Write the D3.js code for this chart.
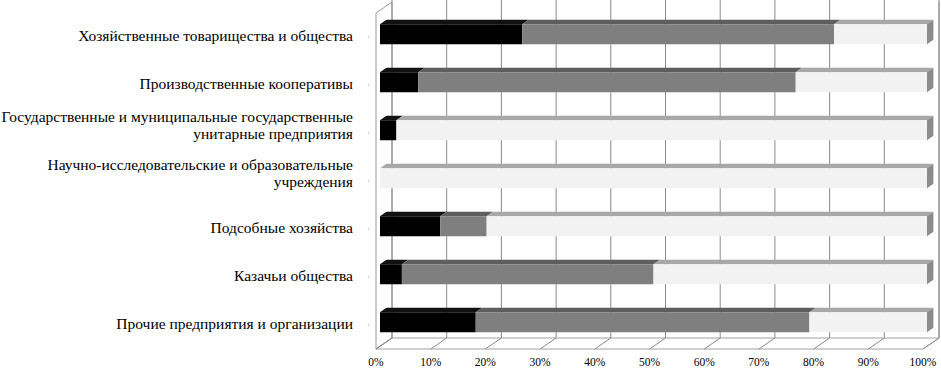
<!DOCTYPE html>
<html>
<head>
<meta charset="utf-8">
<script src="https://cdn.jsdelivr.net/npm/d3@7"></script>
<style>
  body { margin: 0; background: #fff; }
  text { font-family: "Liberation Serif", "Times New Roman", serif; fill: #000; }
</style>
</head>
<body>
<div id="container"></div>
<script>
/* DATA */
const categories = [
  ["Хозяйственные товарищества и общества"],
  ["Производственные кооперативы"],
  ["Государственные и муниципальные государственные", "унитарные предприятия"],
  ["Научно-исследовательские и образовательные", "учреждения"],
  ["Подсобные хозяйства"],
  ["Казачьи общества"],
  ["Прочие предприятия и организации"]
];
const blackShare = [26, 7, 3, 0, 11, 4, 17.5];
const grayShare = [57, 69, 0, 0, 8.5, 46, 61];
const lightShare = [17, 24, 97, 100, 80.5, 50, 21.5];
const tickLabels = ["0%", "10%", "20%", "30%", "40%", "50%", "60%", "70%", "80%", "90%", "100%"];

/* CONSTANTS */
const width = 941, height = 368;
const depth = { dx: 16, dy: -11 };
const barFront = 0.25, barBack = 0.65;

const segColors = [
  { front: "#000000", top: "#111111", side: "#000000" },
  { front: "#7f7f7f", top: "#5e5e5e", side: "#666666" },
  { front: "#f2f2f2", top: "#a8a8a8", side: "#8c8c8c" }
];

const svg = d3.select("#container")
  .append("svg")
  .attr("width", width)
  .attr("height", height);

/* SCALES (front plane) */
const xScale = d3.scaleLinear().domain([0, 100]).range([376, 923]);
const yScale = d3.scaleBand().domain(d3.range(categories.length)).range([13, 349]);

const P = (x, y, t) => [x + depth.dx * t, y + depth.dy * t];
const poly = pts => pts.map(p => p.join(",")).join(" ");

const x0 = xScale(0), x1 = xScale(100);
const yTop = yScale.range()[0], yBot = yScale.range()[1];

/* WALLS AND FLOOR */
const g = svg.append("g");
// left wall
g.append("polygon")
  .attr("points", poly([P(x0, yTop, 0), P(x0, yTop, 1), P(x0, yBot, 1), P(x0, yBot, 0)]))
  .attr("fill", "#fff").attr("stroke", "#9a9a9a").attr("stroke-width", 1);
// back wall right edge
g.append("line")
  .attr("x1", P(x1, yTop, 1)[0]).attr("y1", P(x1, yTop, 1)[1])
  .attr("x2", P(x1, yBot, 1)[0]).attr("y2", P(x1, yBot, 1)[1])
  .attr("stroke", "#9a9a9a");
// floor
g.append("polygon")
  .attr("points", poly([P(x0, yBot, 0), P(x0, yBot, 1), P(x1, yBot, 1), P(x1, yBot, 0)]))
  .attr("fill", "none").attr("stroke", "#a0a0a0").attr("stroke-width", 1);

// gridlines: back wall + floor
const ticks = d3.range(0, 101, 10);
g.selectAll(".grid")
  .data(ticks)
  .join("polyline")
  .attr("class", "grid")
  .attr("points", d => poly([P(xScale(d), yTop - 2, 1), P(xScale(d), yBot, 1), P(xScale(d), yBot, 0)]))
  .attr("fill", "none")
  .attr("stroke", "#8a8a8a")
  .attr("stroke-width", 1);

// small ticks on the left axis
g.selectAll(".ytick")
  .data(d3.range(categories.length))
  .join("line")
  .attr("class", "ytick")
  .attr("x1", x0 - 8).attr("x2", x0 - 6)
  .attr("y1", i => yScale(i) + yScale.bandwidth() / 2)
  .attr("y2", i => yScale(i) + yScale.bandwidth() / 2)
  .attr("stroke", "#bbb");

/* BARS */
const barH = 20;
const barCenter = i => yScale(i) + yScale.bandwidth() / 2 + depth.dy * barFront;
categories.forEach((c, i) => {
  const yF = yScale(i) + (yScale.bandwidth() - barH) / 2;
  const segs = [blackShare[i], grayShare[i], lightShare[i]];
  let acc = 0;
  const bar = svg.append("g");
  segs.forEach((v, k) => {
    if (v <= 0) return;
    const a = xScale(acc), b = xScale(acc + v);
    acc += v;
    // top face
    bar.append("polygon")
      .attr("points", poly([P(a, yF, barFront), P(a, yF, barBack), P(b, yF, barBack), P(b, yF, barFront)]))
      .attr("fill", segColors[k].top);
    // front face
    bar.append("polygon")
      .attr("points", poly([P(a, yF, barFront), P(b, yF, barFront), P(b, yF + barH, barFront), P(a, yF + barH, barFront)]))
      .attr("fill", segColors[k].front);
    // side face at the end of the bar
    if (Math.abs(acc - 100) < 0.01) {
      bar.append("polygon")
        .attr("points", poly([P(b, yF, barFront), P(b, yF, barBack), P(b, yF + barH, barBack), P(b, yF + barH, barFront)]))
        .attr("fill", segColors[k].side);
    }
  });
});

/* LABELS */
svg.append("g")
  .selectAll("text")
  .data(categories)
  .join("text")
  .attr("text-anchor", "end")
  .attr("font-size", 15.5)
  .attr("x", 353)
  .attr("y", (d, i) => barCenter(i) + 7 - (d.length - 1) * 15)
  .selectAll("tspan")
  .data(d => d)
  .join("tspan")
  .attr("x", 353)
  .attr("dy", (d, j) => j === 0 ? 0 : 17)
  .text(d => d);

svg.append("g")
  .selectAll("text")
  .data(ticks)
  .join("text")
  .attr("text-anchor", "middle")
  .attr("font-size", 11.5)
  .attr("x", d => xScale(d))
  .attr("y", 366)
  .text((d, i) => tickLabels[i]);
</script>
</body>
</html>
